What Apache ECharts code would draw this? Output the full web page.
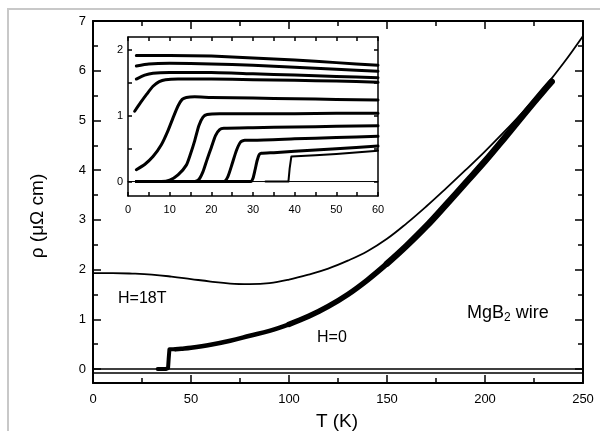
<!DOCTYPE html>
<html>
<head>
<meta charset="utf-8">
<script src="https://cdn.jsdelivr.net/npm/echarts@6/dist/echarts.min.js"></script>
<style>
  html, body { margin: 0; padding: 0; background: #fff; }
  #chart { width: 600px; height: 431px; }
</style>
</head>
<body>
<div id="chart"></div>
<script>
// main panel: rho (micro-ohm cm) vs T (K)
var tZero = [33, 35, 37, 38.3, 38.6, 39, 42, 45, 50, 60, 70, 80, 90, 100, 110, 120, 130, 140, 150, 160, 170, 180, 190, 200, 210, 220, 230, 234];
var rhoZero = [0, 0, 0, 0.02, 0.2, 0.4, 0.4, 0.41, 0.43, 0.49, 0.57, 0.67, 0.77, 0.9, 1.06, 1.26, 1.5, 1.79, 2.12, 2.48, 2.87, 3.3, 3.74, 4.18, 4.65, 5.13, 5.6, 5.78];
var t18 = [0, 10, 20, 30, 40, 50, 60, 70, 80, 90, 100, 110, 120, 130, 140, 150, 160, 170, 180, 190, 200, 210, 220, 230, 240, 250];
var rho18 = [1.93, 1.93, 1.92, 1.9, 1.86, 1.81, 1.76, 1.72, 1.71, 1.73, 1.8, 1.9, 2.02, 2.18, 2.37, 2.62, 2.93, 3.27, 3.63, 4.0, 4.38, 4.78, 5.2, 5.65, 6.15, 6.7];
var mainYTicks = [0, 1, 2, 3, 4, 5, 6, 7];
var mainYMinor = [0.5, 1.5, 2.5, 3.5, 4.5, 5.5, 6.5];

// inset: low-temperature curves in field (top to bottom)
var inT1 = [2, 10, 20, 30, 40, 50, 60];
var inR1 = [1.92, 1.92, 1.91, 1.88, 1.85, 1.81, 1.77];
var inT2 = [2, 5, 10, 20, 30, 40, 50, 60];
var inR2 = [1.76, 1.79, 1.8, 1.79, 1.77, 1.74, 1.71, 1.68];
var inT3 = [2, 4, 6, 10, 20, 30, 40, 50, 60];
var inR3 = [1.56, 1.62, 1.65, 1.66, 1.66, 1.64, 1.62, 1.6, 1.58];
var inT4 = [1.6, 3, 4.5, 6, 7.5, 9, 12, 20, 30, 40, 50, 60];
var inR4 = [1.07, 1.2, 1.33, 1.45, 1.52, 1.55, 1.56, 1.56, 1.55, 1.54, 1.53, 1.51];
var inT5 = [2, 4, 6, 8, 9.5, 11, 12, 13, 14, 16, 20, 30, 40, 50, 60];
var inR5 = [0.18, 0.26, 0.38, 0.56, 0.76, 1.0, 1.15, 1.25, 1.28, 1.29, 1.28, 1.27, 1.26, 1.25, 1.24];
var inT6 = [2, 8, 10, 12, 14, 15, 16, 17, 18, 19, 22, 30, 40, 50, 60];
var inR6 = [0, 0, 0.02, 0.1, 0.25, 0.42, 0.62, 0.85, 0.98, 1.02, 1.03, 1.03, 1.03, 1.04, 1.04];
var inT7 = [2, 16, 17, 18, 19, 20, 21, 22, 23, 30, 40, 50, 60];
var inR7 = [0, 0, 0.03, 0.15, 0.34, 0.52, 0.7, 0.79, 0.81, 0.82, 0.83, 0.84, 0.85];
var inT8 = [2, 23, 24, 25, 26, 27, 28, 30, 40, 50, 60];
var inR8 = [0, 0, 0.08, 0.27, 0.47, 0.6, 0.63, 0.63, 0.65, 0.67, 0.69];
var inT9 = [2, 29.5, 30, 30.5, 31, 31.5, 32, 35, 40, 50, 60];
var inR9 = [0, 0, 0.05, 0.18, 0.32, 0.41, 0.43, 0.44, 0.46, 0.5, 0.54];
var inT10 = [33, 36, 38.5, 38.8, 39.2, 45, 50, 60];
var inR10 = [0, 0, 0, 0.2, 0.38, 0.4, 0.42, 0.47];
var insetYTicks = [0, 1, 2];
var insetYMinor = [0.5, 1.5];

function zip(xs, ys) {
  return xs.map(function (x, i) { return [x, ys[i]]; });
}

var FONT = "'Liberation Sans', Arial, sans-serif";
var chart = echarts.init(document.getElementById("chart"));

function xAx(grid, min, max, interval, labels, fontSize, margin, pos, len) {
  return {
    type: "value", gridIndex: grid, position: pos, min: min, max: max, interval: interval,
    axisLine: { onZero: false, lineStyle: { color: "#000", width: grid == 0 ? 2 : 1.5 } },
    axisTick: { inside: true, length: len, lineStyle: { color: "#000", width: 1.5 } },
    minorTick: { show: true, splitNumber: 2, length: grid == 0 ? len - 3 : len, lineStyle: { color: "#000", width: 1.5 } },
    axisLabel: { show: labels, color: "#000", fontSize: fontSize, fontFamily: FONT, margin: margin },
    splitLine: { show: false },
  };
}

function yAx(grid, min, max, pos, ticks, labels, fontSize, len, lineShow) {
  return {
    type: "value", gridIndex: grid, position: pos, min: min, max: max,
    axisLine: { show: lineShow, lineStyle: { color: "#000", width: grid == 0 ? 2 : 1.5 } },
    axisTick: { show: true, inside: true, length: len, customValues: ticks, lineStyle: { color: "#000", width: 1.5 } },
    axisLabel: { show: labels, customValues: ticks, color: "#000", fontSize: fontSize, fontFamily: FONT, margin: grid == 0 ? 7 : 5 },
    splitLine: { show: false },
  };
}

function line(data, xi, yi, w, smooth) {
  return {
    type: "line", xAxisIndex: xi, yAxisIndex: yi, data: data, symbol: "none",
    smooth: smooth,
    lineStyle: { color: "#000", width: w, cap: "round", join: "round" },
    silent: true, animation: false,
  };
}

var zeroData = zip(tZero, rhoZero);
var series = [
  line([[0, 0], [250, 0]], 0, 0, 1.5, false),
  line([[0, -0.08], [250, -0.08]], 0, 0, 1.5, false),
  line(zip(t18, rho18), 0, 0, 1.8, 0.4),
  // thick H=0 band, getting wider with T
  line(zeroData.slice(0, 7), 0, 0, 4, false),
  line(zeroData.slice(6, 14), 0, 0, 4.5, 0.4),
  line(zeroData.slice(13, 19), 0, 0, 5.5, 0.4),
  line(zeroData.slice(18), 0, 0, 6.5, 0.4),
  line([[0, 0], [60, 0]], 2, 4, 1, false),
];
[[inT1, inR1], [inT2, inR2], [inT3, inR3], [inT4, inR4], [inT5, inR5],
 [inT6, inR6], [inT7, inR7], [inT8, inR8], [inT9, inR9]].forEach(function (c) {
  series.push(line(zip(c[0], c[1]), 2, 4, 3, 0.2));
});
series.push(line(zip(inT10, inR10), 2, 4, 2, false));

chart.setOption({
  animation: false,
  backgroundColor: "#fff",
  grid: [
    { left: 93, top: 21, right: 17, bottom: 48 },
    { left: 128, top: 37, right: 222, bottom: 235 },
  ],
  xAxis: [
    xAx(0, 0, 250, 50, true, 13, 10, "bottom", 8),
    xAx(0, 0, 250, 50, false, 13, 10, "top", 8),
    xAx(1, 0, 60, 10, true, 11, 8, "bottom", 4),
    xAx(1, 0, 60, 10, false, 11, 8, "top", 4),
  ],
  yAxis: [
    yAx(0, -0.28, 7, "left", mainYTicks, true, 13, 8, true),
    yAx(0, -0.28, 7, "left", mainYMinor, false, 13, 5, false),
    yAx(0, -0.28, 7, "right", mainYTicks, false, 13, 8, true),
    yAx(0, -0.28, 7, "right", mainYMinor, false, 13, 5, false),
    yAx(1, -0.22, 2.2, "left", insetYTicks, true, 11, 4, true),
    yAx(1, -0.22, 2.2, "left", insetYMinor, false, 11, 4, false),
    yAx(1, -0.22, 2.2, "right", insetYTicks, false, 11, 4, true),
    yAx(1, -0.22, 2.2, "right", insetYMinor, false, 11, 4, false),
  ],
  graphic: [
    { type: "rect", shape: { x: 8, y: 9, width: 640, height: 460 }, style: { fill: "none", stroke: "#c8c8c8", lineWidth: 2 }, silent: true },
    { type: "text", x: 38, y: 216, rotation: Math.PI / 2, style: { text: "ρ (μΩ cm)", font: "19px " + FONT, fill: "#000", align: "center", verticalAlign: "middle" } },
    { type: "text", x: 337, y: 412, style: { text: "T (K)", font: "19px " + FONT, fill: "#000", align: "center", verticalAlign: "top" } },
    { type: "text", x: 118, y: 299, style: { text: "H=18T", font: "16px " + FONT, fill: "#000", align: "left", verticalAlign: "middle" } },
    { type: "text", x: 317, y: 338, style: { text: "H=0", font: "16px " + FONT, fill: "#000", align: "left", verticalAlign: "middle" } },
    {
      type: "text", x: 467, y: 313,
      style: {
        text: "{a|MgB}{s|2}{a| wire}", align: "left", verticalAlign: "middle", fill: "#000",
        rich: {
          a: { fontSize: 18, fontFamily: FONT, fill: "#000" },
          s: { fontSize: 12, fontFamily: FONT, fill: "#000", padding: [10, 0, 0, 0] },
        },
      },
    },
  ],
  series: series,
});
</script>
</body>
</html>
